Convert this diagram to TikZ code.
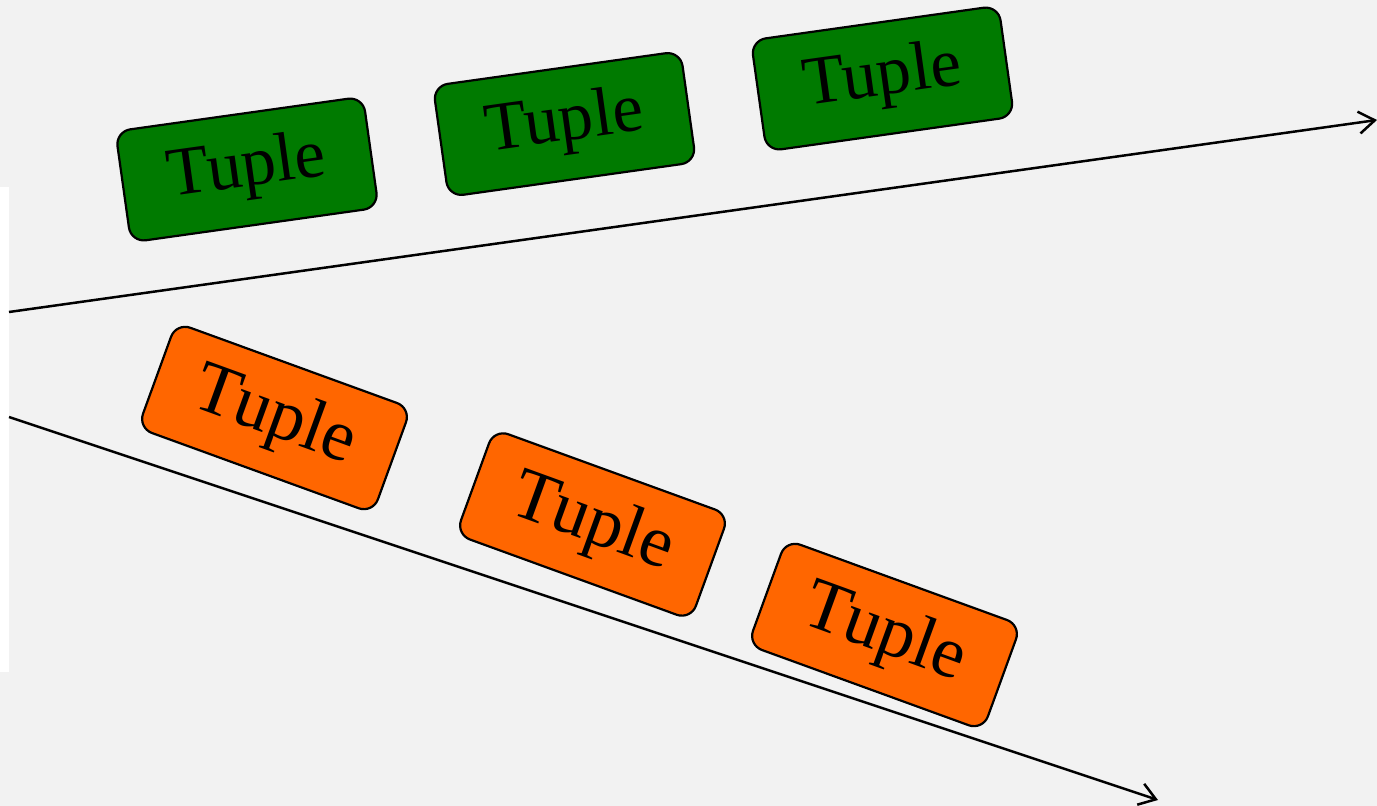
\documentclass[tikz,border=0pt]{standalone}
\usepackage{fontspec}
\setmainfont{Liberation Serif}
\usetikzlibrary{arrows.meta}
\definecolor{bgc}{HTML}{F2F2F2}
\definecolor{tgreen}{HTML}{007A00}
\definecolor{torange}{HTML}{FF6600}
\begin{document}
\begin{tikzpicture}[x=1pt,y=-1pt,
  tuple/.style={draw=black, line width=2.2pt, rounded corners=15pt,
    minimum width=250pt, minimum height=112pt, inner sep=0pt},
  gtuple/.style={tuple, fill=tgreen, rotate=8, font=\fontsize{69}{69}\selectfont},
  otuple/.style={tuple, fill=torange, rotate=-20, font=\fontsize{73}{73}\selectfont},
  flow/.style={draw=black, line width=2.5pt, -{Straight Barb[length=16pt,width=22pt,line width=2.5pt]}}]
\fill[bgc] (0,0) rectangle (1377,806);
\useasboundingbox (0,0) rectangle (1377,806);
\fill[white] (0,187) rectangle (9,672);
\coordinate (us) at (9,312);
\coordinate (ue) at (1377,120);
\coordinate (ls) at (9,417);
\coordinate (le) at (1158,800);
\draw[flow] (us) -- (ue);
\draw[flow] (ls) -- (le);
\node[gtuple] (g1) at (247,169.5) {Tuple};
\node[gtuple] (g2) at (564.5,124) {Tuple};
\node[gtuple] (g3) at (882.5,78.5) {Tuple};
\node[otuple] (o1) at (274.5,418) {Tuple};
\node[otuple] (o2) at (592.5,524.5) {Tuple};
\node[otuple] (o3) at (884.5,635) {Tuple};
\end{tikzpicture}
\end{document}
